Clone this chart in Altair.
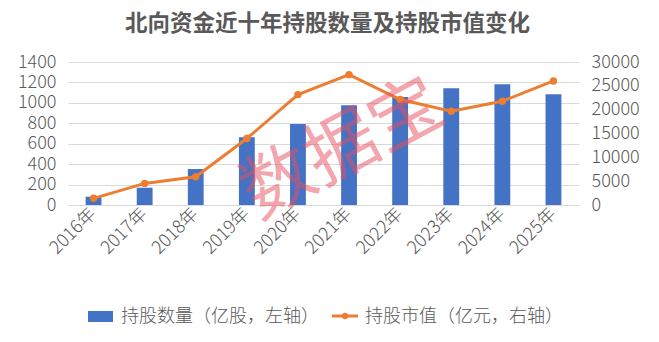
import altair as alt
import pandas as pd

years = ["2016年", "2017年", "2018年", "2019年", "2020年", "2021年", "2022年", "2023年", "2024年", "2025年"]
shares = [81, 169, 352, 664, 794, 977, 1058, 1143, 1182, 1084]
market_value = [1400, 4530, 5930, 13950, 23160, 27350, 22120, 19670, 21770, 26020]

title_text = "北向资金近十年持股数量及持股市值变化"
legend_bar = "持股数量（亿股，左轴）"
legend_line = "持股市值（亿元，右轴）"
watermark = "数据宝"

df = pd.DataFrame({"year": years, "shares": shares, "value": market_value})
one = pd.DataFrame({"k": [0]})

FONT = "Noto Sans CJK SC"
BLUE = "#4472C4"
ORANGE = "#ED7D31"
GREY = "#595959"

x_enc = alt.X("year:N", sort=years, title=None,
              scale=alt.Scale(paddingInner=0.69, paddingOuter=0.345),
              axis=alt.Axis(labelAngle=315, labelAlign="right", labelBaseline="middle",
                            labelFontSize=18, labelColor=GREY, labelFont=FONT, labelFontWeight=300,
                            ticks=False, domain=False, labelPadding=6, grid=False))

bars = alt.Chart(df).mark_bar(color=BLUE).encode(
    x=x_enc,
    y=alt.Y("shares:Q", title=None,
            scale=alt.Scale(domain=[0, 1400], nice=False),
            axis=alt.Axis(values=list(range(0, 1401, 200)), format="d", labelFontSize=18,
                          labelColor=GREY, labelFont=FONT, labelFontWeight=300,
                          ticks=False, domain=False, gridColor="#D9D9D9",
                          labelPadding=12, orient="left")),
)

base_line = alt.Chart(df).encode(
    x=alt.X("year:N", sort=years),
    y=alt.Y("value:Q", title=None,
            scale=alt.Scale(domain=[0, 30000], nice=False),
            axis=alt.Axis(values=list(range(0, 30001, 5000)), format="d", labelFontSize=18,
                          labelColor=GREY, labelFont=FONT, labelFontWeight=300,
                          ticks=False, domain=False, grid=False,
                          labelPadding=12, orient="right")),
)
line = base_line.mark_line(color=ORANGE, strokeWidth=3)
points = base_line.mark_point(color=ORANGE, filled=True, opacity=1, size=55)

wm = alt.Chart(one).mark_text(text=watermark, font=FONT, fontSize=72, fontWeight="normal",
                              color="#E8505F", opacity=0.5, angle=332,
                              align="center", baseline="middle").encode(
    x=alt.value(275), y=alt.value(88))

leg_rect = alt.Chart(one).mark_rect(color=BLUE).encode(
    x=alt.value(20), x2=alt.value(45), y=alt.value(249), y2=alt.value(260))
leg_text1 = alt.Chart(one).mark_text(text=legend_bar, font=FONT, fontSize=18, fontWeight=300,
                                     color=GREY, align="left", baseline="middle").encode(
    x=alt.value(53), y=alt.value(255))
leg_line = alt.Chart(one).mark_rule(color=ORANGE, strokeWidth=3).encode(
    x=alt.value(264), x2=alt.value(290), y=alt.value(254))
leg_dot = alt.Chart(one).mark_point(color=ORANGE, filled=True, opacity=1, size=40).encode(
    x=alt.value(277), y=alt.value(254))
leg_text2 = alt.Chart(one).mark_text(text=legend_line, font=FONT, fontSize=18, fontWeight=300,
                                     color=GREY, align="left", baseline="middle").encode(
    x=alt.value(297), y=alt.value(255))

chart = alt.layer(
    bars, alt.layer(line, points), wm, leg_rect, leg_text1, leg_line, leg_dot, leg_text2
).resolve_scale(y="independent").properties(
    width=511, height=143,
    autosize=alt.AutoSizeParams(type="none"),
    padding={"left": 68, "top": 62, "right": 80, "bottom": 137},
    background="white",
    title=alt.TitleParams(title_text, font=FONT, fontSize=22.5, fontWeight="bold",
                          color=GREY, anchor="middle", offset=18, dx=4),
).configure_view(stroke=None)

chart.save("out.html", embed_options={"renderer": "svg", "actions": False})
